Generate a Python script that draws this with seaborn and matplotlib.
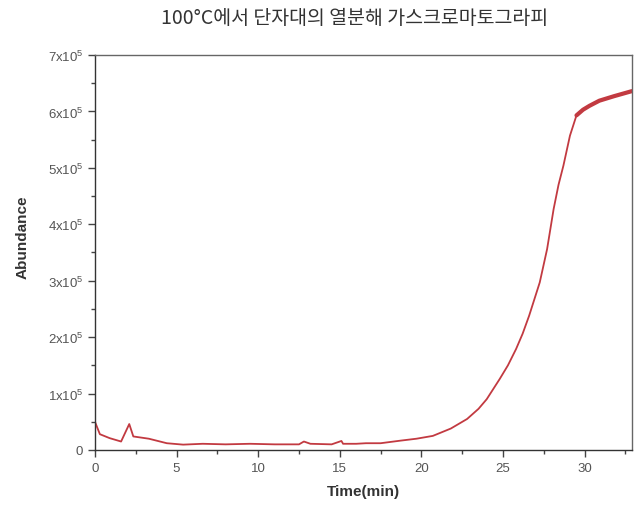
import matplotlib
matplotlib.use("Agg")
import matplotlib.pyplot as plt
from matplotlib.ticker import MultipleLocator, FuncFormatter
import seaborn as sns
import pandas as pd

# Total ion chromatogram: retention time (min) and abundance (counts)
time_min = [0.0, 0.3, 0.9, 1.6, 2.1, 2.35, 3.3, 4.4, 5.4, 6.6, 8.0, 9.5, 11.0,
            12.5, 12.8, 13.2, 14.5, 15.1, 15.2, 16.0, 16.6, 17.5, 18.7, 19.7,
            20.7, 21.8, 22.8, 23.5, 24.0, 24.8, 25.3, 25.8, 26.2, 26.6, 27.25,
            27.7, 28.1, 28.4, 28.7, 29.1, 29.5, 29.9, 30.3, 30.9, 31.8, 32.9]
abundance = [0.50e5, 0.28e5, 0.21e5, 0.15e5, 0.46e5, 0.24e5, 0.20e5, 0.12e5,
             0.095e5, 0.11e5, 0.10e5, 0.11e5, 0.10e5, 0.10e5, 0.15e5, 0.11e5,
             0.10e5, 0.16e5, 0.11e5, 0.11e5, 0.12e5, 0.12e5, 0.165e5, 0.20e5,
             0.25e5, 0.38e5, 0.55e5, 0.73e5, 0.90e5, 1.26e5, 1.50e5, 1.79e5,
             2.06e5, 2.38e5, 2.97e5, 3.56e5, 4.27e5, 4.70e5, 5.04e5, 5.57e5,
             5.93e5, 6.03e5, 6.10e5, 6.19e5, 6.27e5, 6.36e5]

y_ticks = [0, 1e5, 2e5, 3e5, 4e5, 5e5, 6e5, 7e5]
x_ticks = [0, 5, 10, 15, 20, 25, 30]

title_text = "100°C에서 단자대의 열분해 가스크로마토그라피"

df = pd.DataFrame({"Time(min)": time_min, "Abundance": abundance})

sns.set_theme(style="white")
plt.rcParams["font.family"] = ["Liberation Sans", "DejaVu Sans"]
plt.rcParams["mathtext.fontset"] = "custom"
plt.rcParams["mathtext.rm"] = "Liberation Sans"
plt.rcParams["mathtext.it"] = "Liberation Sans"

fig = plt.figure(figsize=(6.34, 5.10), dpi=100)
ax = fig.add_axes([0.1498, 0.1157, 0.8470, 0.7745])

line_color = "#c23a41"
sns.lineplot(data=df, x="Time(min)", y="Abundance", ax=ax,
             color=line_color, linewidth=1.3, estimator=None, sort=False)

# the plateau region is noisier, drawn as a heavier trace
plateau = df[df["Time(min)"] >= 29.5]
sns.lineplot(data=plateau, x="Time(min)", y="Abundance", ax=ax,
             color=line_color, linewidth=3.0, estimator=None, sort=False,
             solid_capstyle="round")

ax.set_xlim(0, 32.9)
ax.set_ylim(0, 7e5)
ax.set_xticks(x_ticks)
ax.set_yticks(y_ticks)
ax.xaxis.set_minor_locator(MultipleLocator(2.5))
ax.yaxis.set_minor_locator(MultipleLocator(0.5e5))


def sci_label(v, pos):
    if v == 0:
        return "0"
    return r"%dx10$^{5}$" % round(v / 1e5)


ax.yaxis.set_major_formatter(FuncFormatter(sci_label))

for side in ["left", "bottom", "top", "right"]:
    ax.spines[side].set_visible(True)
    ax.spines[side].set_color("#666666")
    ax.spines[side].set_linewidth(1.0)
ax.spines["left"].set_color("#333333")
ax.spines["bottom"].set_color("#333333")

ax.tick_params(which="major", direction="out", length=5, width=1,
               color="#444444", labelsize=9.5, labelcolor="#555555",
               bottom=True, left=True, top=False, right=False)
ax.tick_params(which="minor", direction="out", length=3, width=1,
               color="#444444", bottom=True, left=True, top=False, right=False)

ax.set_xlabel("Time(min)", fontsize=11, fontweight="bold", color="#333333",
              labelpad=7)
ax.set_ylabel("Abundance", fontsize=11, fontweight="bold", color="#333333")
ax.yaxis.set_label_coords(-0.121, 0.54)

fig.text(0.56, 0.963, title_text, ha="center", va="center", fontsize=14,
         color="#333333", family=["Noto Sans CJK KR", "DejaVu Sans"])

fig.savefig("out.png", dpi=100)
